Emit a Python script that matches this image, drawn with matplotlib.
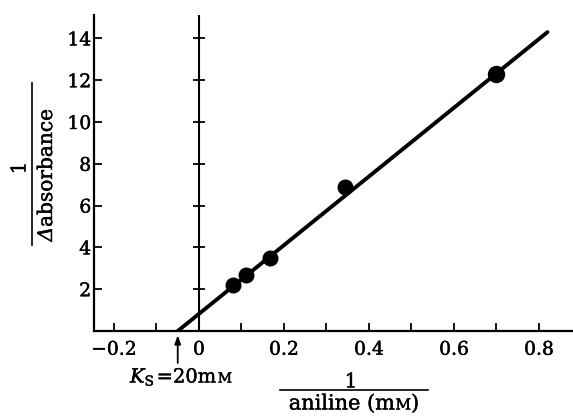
import matplotlib
matplotlib.use("Agg")
import matplotlib.pyplot as plt
import matplotlib.patheffects as pe
from matplotlib.lines import Line2D
from matplotlib.offsetbox import TextArea, HPacker, AnnotationBbox
import numpy as np

# ---- data ----
inv_aniline = [0.08, 0.11, 0.167, 0.343, 0.70]      # 1/aniline (mM^-1)
inv_dabs = [2.2, 2.68, 3.5, 6.9, 12.3]              # 1/Δabsorbance
point_sizes = [10.5, 10.5, 10.5, 10.5, 11.5]
fit_slope = 16.44
fit_intercept = 0.82
fit_x = [-0.05, 0.82]
ks_x = -0.05                                        # -1/Ks, Ks = 20 mM
xticks_major = [-0.2, 0.0, 0.2, 0.4, 0.6, 0.8]
xtick_labels = ["\u22120.2", "0", "0.2", "0.4", "0.6", "0.8"]
xticks_minor = [-0.1, 0.1, 0.3, 0.5, 0.7]
yticks = [2, 4, 6, 8, 10, 12, 14]
ytick_labels = ["2", "4", "6", "8", "10", "12", "14"]

plt.rcParams["font.family"] = ["DejaVu Serif"]
plt.rcParams["mathtext.fontset"] = "dejavuserif"

heavy = [pe.withStroke(linewidth=0.3, foreground="k")]

W, H = 573, 416
fig = plt.figure(figsize=(W / 100, H / 100), dpi=100)
ax = fig.add_axes([94 / W, (H - 331) / H, (W - 94) / W, (331 - 15) / H])
ax.set_xlim(-0.247, 0.88)
ax.set_ylim(0, 15.12)

for s in ["top", "right"]:
    ax.spines[s].set_visible(False)
for s in ["left", "bottom"]:
    ax.spines[s].set_linewidth(1.6)

ax.set_xticks(xticks_major)
ax.set_xticklabels(xtick_labels)
ax.set_xticks(xticks_minor, minor=True)
ax.set_yticks(yticks)
ax.set_yticklabels(ytick_labels)
ax.tick_params(axis="both", which="both", direction="in", length=6, width=1.3,
               labelsize=13.5)
ax.tick_params(axis="x", which="major", pad=7)
ax.tick_params(axis="y", which="major", pad=2)
for lab in ax.get_xticklabels() + ax.get_yticklabels():
    lab.set_path_effects(heavy)

# vertical axis at x = 0 with crossing ticks
ax.axvline(0, color="k", lw=1.5, zorder=1)
ax.plot(np.zeros(len(yticks)), yticks, ls="none", marker="_", ms=9, mew=1.3,
        color="k", zorder=1)

# fit line
fx = np.array(fit_x)
ax.plot(fx, fit_slope * fx + fit_intercept, color="k", lw=2.8,
        solid_capstyle="round", zorder=2)

# data points
for xv, yv, ms in zip(inv_aniline, inv_dabs, point_sizes):
    ax.plot([xv], [yv], marker="o", ms=ms, color="k", mec="k", ls="none", zorder=3)

# Ks arrow
ax.annotate("", xy=(ks_x, 0), xycoords="data",
            xytext=(0, -23), textcoords="offset points",
            arrowprops=dict(arrowstyle="-|>,head_length=0.5,head_width=0.18",
                            color="k", lw=1.3, shrinkA=0, shrinkB=3),
            annotation_clip=False)

# Ks text
ks_box = HPacker(children=[
    TextArea(r"$K_{\mathrm{S}}$", textprops=dict(size=14, path_effects=heavy)),
    TextArea("=20m", textprops=dict(size=14, path_effects=heavy)),
    TextArea("M", textprops=dict(size=10, path_effects=heavy)),
], align="baseline", pad=0, sep=1)
fig.add_artist(AnnotationBbox(ks_box, (181 / W, 1 - 377 / H), xycoords="figure fraction",
                              frameon=False, box_alignment=(0.5, 0.5)))

# x label (fraction)
fig.text(351 / W, 1 - 382 / H, "1", ha="center", va="center", size=14.5,
         path_effects=heavy)
fig.add_artist(Line2D([280 / W, 428 / W], [1 - 390 / H, 1 - 390 / H],
                      color="k", lw=1.2, transform=fig.transFigure))
xl_box = HPacker(children=[
    TextArea("aniline (m", textprops=dict(size=15, path_effects=heavy)),
    TextArea("M", textprops=dict(size=11, path_effects=heavy)),
    TextArea(")", textprops=dict(size=15, path_effects=heavy)),
], align="baseline", pad=0, sep=0)
fig.add_artist(AnnotationBbox(xl_box, (354 / W, 1 - 404 / H), xycoords="figure fraction",
                              frameon=False, box_alignment=(0.5, 0.5)))

# y label (fraction, rotated)
fig.text(20 / W, 1 - 168 / H, "1", ha="center", va="center", rotation=90, size=14.5,
         path_effects=heavy)
fig.add_artist(Line2D([32 / W, 32 / W], [1 - 83 / H, 1 - 245 / H],
                      color="k", lw=1.2, transform=fig.transFigure))
fig.text(56 / W, 1 - 227 / H, "absorbance", ha="right", va="bottom",
         rotation=90, size=14.5, path_effects=heavy)
fig.text(56 / W, 1 - 227 / H, "\u0394", ha="right", va="top",
         rotation=90, size=14.5, style="italic", path_effects=heavy)

fig.savefig("out.png", dpi=100)
